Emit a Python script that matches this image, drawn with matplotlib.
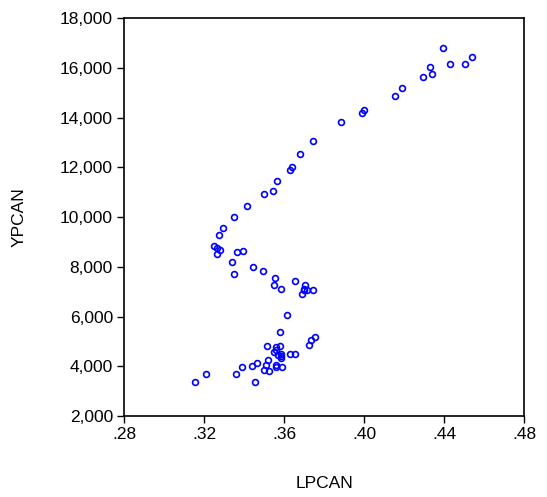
import numpy as np
import matplotlib.pyplot as plt
from matplotlib.ticker import FuncFormatter

plt.rcParams['font.family'] = ['Liberation Sans', 'DejaVu Sans']

# LPCAN / YPCAN scatter values
lpcan = [0.3157, 0.3212, 0.3360, 0.3388, 0.3440, 0.3463, 0.3455, 0.3500, 0.3525, 0.3510,
         0.3518, 0.3515, 0.3557, 0.3557, 0.3588, 0.3550, 0.3558, 0.3557, 0.3578, 0.3567,
         0.3582, 0.3583, 0.3585, 0.3577, 0.3612, 0.3627, 0.3652, 0.3723, 0.3732, 0.3753,
         0.3563, 0.3542, 0.3497, 0.3417, 0.3350, 0.3293, 0.3277, 0.3248, 0.3263, 0.3282,
         0.3267, 0.3367, 0.3393, 0.3340, 0.3350, 0.3445, 0.3495, 0.3553, 0.3548, 0.3583,
         0.3653, 0.3705, 0.3697, 0.3713, 0.3690, 0.3745, 0.3700,
         0.3882, 0.3743, 0.3678, 0.3640, 0.3627,
         0.4395, 0.4540, 0.4505, 0.4430, 0.4328, 0.4340, 0.4292, 0.4190, 0.4153, 0.3998, 0.3987]
ypcan = [3379, 3676, 3688, 3958, 4022, 4143, 3379, 3861, 3797, 4038,
         4239, 4826, 4038, 3982, 3982, 4561, 4653, 4774, 4802, 4452,
         4492, 4319, 4424, 5377, 6048, 4480, 4504, 4854, 5067, 5176,
         11447, 11057, 10936, 10470, 10000, 9558, 9276, 8834, 8754, 8685,
         8524, 8605, 8645, 8203, 7696, 7978, 7829, 7535, 7278, 7117,
         7439, 7266, 7065, 7053, 6916, 7077, 7117,
         13819, 13055, 12544, 12038, 11889,
         16822, 16460, 16150, 16150, 16058, 15760, 15656, 15198, 14876, 14301, 14181]

x_ticks = [0.28, 0.32, 0.36, 0.40, 0.44, 0.48]
y_ticks = [2000, 4000, 6000, 8000, 10000, 12000, 14000, 16000, 18000]

fig = plt.figure(figsize=(5.47, 4.97), dpi=100)
ax = fig.add_axes([0.2267, 0.163, 0.7318, 0.8])

ax.plot(lpcan, ypcan, linestyle='none', marker='o', markersize=4.2,
        markerfacecolor='none', markeredgecolor='#0000ff', markeredgewidth=1.2)

ax.set_xlim(0.28, 0.48)
ax.set_ylim(2000, 18000)
ax.set_xticks(x_ticks)
ax.set_yticks(y_ticks)
ax.xaxis.set_major_formatter(FuncFormatter(lambda v, p: ('%.2f' % v)[1:]))
ax.yaxis.set_major_formatter(FuncFormatter(lambda v, p: '{:,.0f}'.format(v)))
ax.tick_params(direction='out', length=5, width=1, labelsize=12.5, color='black', pad=3)
for s in ax.spines.values():
    s.set_linewidth(1.2)

# axis titles placed where the reference has them
ax.set_xlabel('LPCAN', fontsize=12.5, va='center')
ax.set_ylabel('YPCAN', fontsize=12.5, va='center')
ax.xaxis.set_label_coords(0.5, -0.169)
ax.yaxis.set_label_coords(-0.262, 0.5)

fig.savefig('out.png', dpi=100)
